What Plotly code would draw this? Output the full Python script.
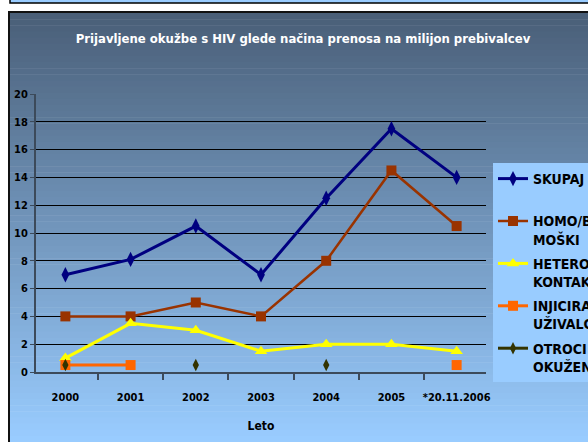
import plotly.graph_objects as go

# Reported HIV infections per million inhabitants, by transmission route
years = ["2000", "2001", "2002", "2003", "2004", "2005", "*20.11.2006"]
skupaj = [7, 8.1, 10.5, 7, 12.5, 17.5, 14]
homo = [4, 4, 5, 4, 8, 14.5, 10.5]
hetero = [1, 3.5, 3, 1.5, 2, 2, 1.5]
injic = [0.5, 0.5, None, None, None, None, 0.5]
otroci = [0.5, None, 0.5, None, 0.5, None, None]

FONT = "DejaVu Sans Condensed, Liberation Sans Narrow, Arial Narrow, sans-serif"

W, H = 588, 442
L, R, T, B = 36, 486, 94, 372   # plot area in pixels


def px(x):
    return (x - L) / (R - L)


def py(y):
    return (B - y) / (B - T)


fig = go.Figure()

series = [
    ("SKUPAJ<br> ", skupaj, "#000080", "diamond-tall", 11, 3),
    ("HOMO/BISEKSUALNI<br>MOŠKI", homo, "#993300", "square", 10, 2.5),
    ("HETERO.<br>KONTAKT", hetero, "#ffff00", "triangle-up", 11, 3),
    ("INJICIRAJOČI<br>UŽIVALCI DROG", injic, "#ff6600", "square", 10, 3),
    ("OTROCI MATER<br>OKUŽENIH S HIV", otroci, "#333300", "diamond-tall", 9, 3),
]
for i, (name, vals, col, sym, size, lw) in enumerate(series):
    fig.add_trace(go.Scatter(x=years, y=vals, name="<b>%s</b>" % name, mode="lines+markers",
                             legendgroup="g%d" % i,
                             line=dict(color=col, width=lw),
                             marker=dict(symbol=sym, size=size, color=col)))

# gradient background frame built from thin bands
shapes = []
top, bot = 13, 442
c0 = (74, 95, 120)
c1 = (153, 204, 255)
n = 70
for i in range(n):
    y0 = top + (bot - top) * i / n
    y1 = top + (bot - top) * (i + 1) / n + 0.5
    f = i / (n - 1)
    col = "rgb(%d,%d,%d)" % tuple(round(a + (b - a) * f) for a, b in zip(c0, c1))
    shapes.append(dict(type="rect", xref="paper", yref="paper", layer="below",
                       x0=px(9), x1=px(600), y0=py(y1), y1=py(y0),
                       fillcolor=col, line=dict(width=0)))
shapes.append(dict(type="rect", xref="paper", yref="paper", layer="below",
                   x0=px(9), x1=px(600), y0=py(450), y1=py(12),
                   fillcolor="rgba(0,0,0,0)", line=dict(color="#111111", width=2)))
# thin strip at the very top
shapes.append(dict(type="rect", xref="paper", yref="paper", layer="below",
                   x0=px(10), x1=px(600), y0=py(3), y1=py(-10),
                   fillcolor="#99ccff", line=dict(color="#000000", width=1.5)))

fig.update_layout(
    width=W, height=H,
    margin=dict(l=L, r=W - R, t=T, b=H - B, autoexpand=False),
    paper_bgcolor="white",
    plot_bgcolor="rgba(0,0,0,0)",
    shapes=shapes,
    title=dict(text="<b>Prijavljene okužbe s HIV glede načina prenosa na milijon prebivalcev</b>",
               x=303 / W, xanchor="center", y=1 - 38 / H, yanchor="middle",
               font=dict(family=FONT, size=13, color="white")),
    font=dict(family=FONT, size=11, color="black"),
    showlegend=True,
    legend=dict(x=px(493), xanchor="left", y=py(163), yanchor="top",
                bgcolor="#99ccff", borderwidth=0, valign="top", itemwidth=30,
                tracegroupgap=3,
                font=dict(family=FONT, size=14, color="black"),
                traceorder="grouped"),
    xaxis=dict(type="category", showgrid=False, showline=True, linecolor="#3c4a5a", linewidth=2,
               ticks="outside", tickson="boundaries", ticklen=6, tickcolor="#3c4a5a", tickwidth=2,
               tickangle=0,
               tickfont=dict(family=FONT, size=11), ticklabelstandoff=14,
               title=dict(text="<b>Leto</b>", font=dict(family=FONT, size=12), standoff=18),
               tickprefix="<b>", ticksuffix="</b>", zeroline=False),
    yaxis=dict(range=[0, 20], dtick=2, showgrid=True, gridcolor="black", gridwidth=1,
               showline=True, linecolor="#3c4a5a", linewidth=2,
               ticks="outside", ticklen=4, tickcolor="#3c4a5a",
               tickfont=dict(family=FONT, size=11), tickprefix="<b>", ticksuffix="</b>",
               zeroline=False),
)

fig.update_traces(cliponaxis=False, connectgaps=False)

fig.write_html("out.html", config={"displayModeBar": False},
               post_script="document.body.style.margin='0';")
